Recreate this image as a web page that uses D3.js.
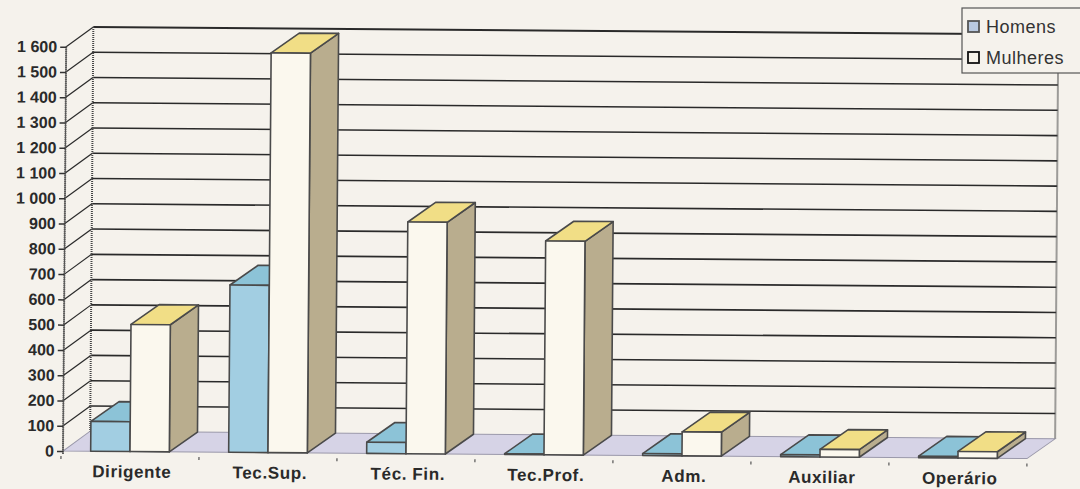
<!DOCTYPE html>
<html><head><meta charset="utf-8">
<script src="https://cdn.jsdelivr.net/npm/d3@7"></script>
<style>html,body{margin:0;padding:0;background:#f5f2ec;}svg{display:block;}</style>
</head><body>
<svg id="chart" width="1080" height="489"></svg>
<script>
const categories = ["Dirigente","Tec.Sup.","Téc. Fin.","Tec.Prof.","Adm.","Auxiliar","Operário"];
const homens   = [118, 662, 44, 3, 8, 8, 6];
const mulheres = [503, 1582, 917, 846, 95, 30, 26];
const seriesNames = ["Homens","Mulheres"];
const yTicks = d3.range(0, 1601, 100);

const svg = d3.select("#chart");
const W = 1080, H = 489;
svg.append("rect").attr("width",W).attr("height",H).attr("fill","#f5f2ec");

const dx = 28, dy = -20;
const x = d3.scaleBand().domain(categories).range([61, 1027]).paddingInner(0).paddingOuter(0);
const y = d3.scaleLinear().domain([0,1600]).range([451, 46.7]);
const fmt = v => d3.format(",")(v).replace(/,/g, " ");

const g = svg.append("g").attr("transform","rotate(0.45,63,451)");

const x0 = 63, x1 = 1027;
const line = "#2a2a2a";
// floor
g.append("polygon")
  .attr("points", [[x0,y(0)],[x1,y(0)],[x1+dx,y(0)+dy],[x0+dx-1,y(0)+dy]].map(p=>p.join(",")).join(" "))
  .attr("fill","#d6d3e6").attr("stroke","#9a98aa").attr("stroke-width",1);

// gridlines: diagonal on side wall + horizontal on back wall
const grid = g.append("g");
yTicks.forEach(t => {
  const yy = y(t);
  if (t > 0) {
    grid.append("line").attr("x1",x0).attr("y1",yy).attr("x2",x0+dx-1).attr("y2",yy+dy)
      .attr("stroke",line).attr("stroke-width",1.2);
    grid.append("line").attr("x1",x0+dx-1).attr("y1",yy+dy).attr("x2",x1+dx).attr("y2",yy+dy)
      .attr("stroke",line).attr("stroke-width",t === 1600 ? 2 : 1.6);
  }
});
// walls edges
grid.append("line").attr("x1",x0+dx-1).attr("y1",y(1600)+dy).attr("x2",x0+dx-1).attr("y2",y(0)+dy)
  .attr("stroke","#444").attr("stroke-width",2).attr("stroke-dasharray","1,1");
grid.append("line").attr("x1",x1+dx).attr("y1",y(1600)+dy).attr("x2",x1+dx).attr("y2",y(0)+dy)
  .attr("stroke","#444").attr("stroke-width",2).attr("stroke-dasharray","1,1");
// front value axis
g.append("line").attr("x1",x0).attr("y1",y(1600)).attr("x2",x0).attr("y2",y(0)+3)
  .attr("stroke","#3a3a3a").attr("stroke-width",2).attr("stroke-dasharray","1,1");
g.append("line").attr("x1",x0).attr("y1",y(1600)).attr("x2",x0).attr("y2",y(0)+3)
  .attr("stroke","#555").attr("stroke-width",1);

// y axis ticks and labels via d3 axis
const yAxis = d3.axisLeft(y).tickValues(yTicks).tickFormat(fmt).tickSize(6).tickPadding(3);
const ya = g.append("g").attr("transform",`translate(${x0},0)`).call(yAxis);
ya.select(".domain").remove();
ya.selectAll(".tick line").attr("stroke","#333").attr("stroke-width",1.5);
ya.selectAll(".tick text").attr("font-family","Liberation Sans, Arial, sans-serif")
  .attr("font-size",16).attr("font-weight","bold").attr("fill","#2a2a2a");

// x axis category ticks (small marks at boundaries) and labels
const bounds = categories.map(c => x(c)).concat([x1]);
bounds.forEach(b => {
  g.append("line").attr("x1",b).attr("y1",y(0)+5).attr("x2",b).attr("y2",y(0)+8)
    .attr("stroke","#555").attr("stroke-width",1.2);
});
g.selectAll("text.cat").data(categories).enter().append("text")
  .attr("class","cat")
  .attr("x", c => x(c) + x.bandwidth()/2 + 2)
  .attr("y", y(0) + 26)
  .attr("text-anchor","middle")
  .attr("font-family","Liberation Sans, Arial, sans-serif")
  .attr("font-size",17).attr("font-weight","bold").attr("letter-spacing",0.6).attr("fill","#2a2a2a")
  .text(c => c);

// bars
const styles = [
  {front:"#a2cee2", top:"#8cc3d7", side:"#7fb0c4"},
  {front:"#fbf8ee", top:"#f1de86", side:"#b9ad8e"}
];
const bw = x.bandwidth();
const barW = bw * 0.285;
const bars = g.append("g");
const pts = a => a.map(p => p.join(",")).join(" ");
categories.forEach((c, ci) => {
  [homens[ci], mulheres[ci]].forEach((v, si) => {
    const s = styles[si];
    const xl = x(c) + bw*0.215 + si*barW;
    const xr = xl + barW;
    const yt = y(v), yb = y(0);
    const bg = bars.append("g").attr("stroke","#4a4a4a").attr("stroke-width",1.6).attr("stroke-linejoin","round");
    bg.append("polygon").attr("points", pts([[xr,yt],[xr+dx,yt+dy],[xr+dx,yb+dy],[xr,yb]])).attr("fill", s.side);
    bg.append("polygon").attr("points", pts([[xl,yt],[xl+dx,yt+dy],[xr+dx,yt+dy],[xr,yt]])).attr("fill", s.top);
    bg.append("rect").attr("x",xl).attr("y",yt).attr("width",barW).attr("height",Math.max(0,yb-yt)).attr("fill", s.front);
  });
});

// legend
const lg = svg.append("g");
lg.append("rect").attr("x",962).attr("y",8).attr("width",130).attr("height",65)
  .attr("fill","#f5f2ec").attr("stroke","#555").attr("stroke-width",1.2);
const swatch = ["#b9c9e0","#f7f3ea"];
seriesNames.forEach((n,i) => {
  const yy = 21 + i*31;
  lg.append("rect").attr("x",968).attr("y",yy).attr("width",11).attr("height",11)
    .attr("fill",swatch[i]).attr("stroke", i ? "#111" : "#555").attr("stroke-width",1.8);
  lg.append("text").attr("x",986).attr("y",yy+12)
    .attr("font-family","Liberation Sans, Arial, sans-serif").attr("font-size",18).attr("letter-spacing",0.5)
    .attr("fill","#333").text(n);
});
</script>
</body></html>
